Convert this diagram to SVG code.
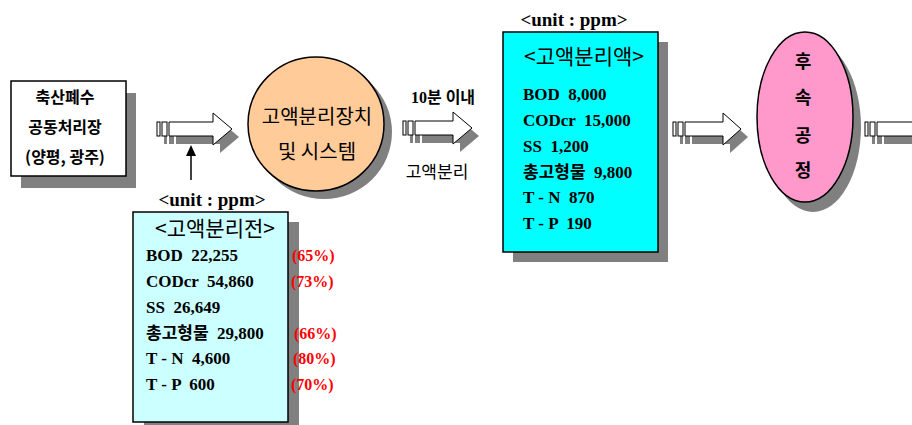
<svg xmlns="http://www.w3.org/2000/svg" width="912" height="425" viewBox="0 0 912 425">
<style>
.sh{fill:#808080;stroke:none}
.ln{stroke:#000;stroke-width:1.5}
.kb{font-family:"Noto Sans CJK KR","Liberation Sans",sans-serif;font-weight:bold;fill:#000}
.kr{font-family:"Noto Sans CJK KR","Liberation Sans",sans-serif;font-weight:normal;fill:#000}
.tb{font-family:"Liberation Serif","Noto Sans CJK KR",serif;font-weight:bold;fill:#000}
.rd{font-family:"Liberation Serif",serif;font-weight:bold;fill:#FF0000;font-size:16px}
.row{font-size:17px}
.aw{fill:#fff;stroke:#000;stroke-width:1}
</style>
<defs>
<g id="arrowShape">
<rect x="0" y="-7" width="3" height="14"/>
<rect x="5" y="-7" width="5" height="14"/>
<polygon points="12,-7 56,-7 56,-16 75,0 56,16 56,7 12,7"/>
</g>
<g id="arrow">
<use href="#arrowShape" class="sh" transform="translate(7,8)"/>
<use href="#arrowShape" class="aw"/>
</g>
<g id="arrowS">
<rect x="7" y="1" width="3" height="14" class="sh"/>
<rect x="12" y="1" width="5" height="14" class="sh"/>
<polygon class="sh" points="19,1 57,1 57,-8 75,8 57,24 57,15 19,15"/>
<rect x="0" y="-7" width="3" height="14" class="aw"/>
<rect x="5" y="-7" width="5" height="14" class="aw"/>
<polygon class="aw" points="12,-7 50,-7 50,-16 68,0 50,16 50,7 12,7"/>
</g>
</defs>

<g id="connectors">
<use href="#arrow" transform="translate(157,129)"/>
<g transform="translate(403,128)">
<rect x="7" y="1" width="3" height="14" class="sh"/>
<rect x="12" y="1" width="5" height="14" class="sh"/>
<polygon class="sh" points="19,1 57,1 57,-8 76,8 57,24 57,15 19,15"/>
<rect x="0" y="-7" width="3" height="14" class="aw"/>
<rect x="5" y="-7" width="5" height="14" class="aw"/>
<polygon class="aw" points="12,-7 50,-7 50,-16 69,0 50,16 50,7 12,7"/>
</g>
<use href="#arrowS" transform="translate(673,129)"/>
<use href="#arrowS" transform="translate(865,129)"/>
<line x1="191" y1="180" x2="191" y2="155" class="ln"/>
<polygon points="191,145 186,156 196,156" fill="#000"/>
</g>

<g id="source">
<rect x="21" y="93" width="115" height="95" class="sh"/>
<rect x="11" y="81" width="115" height="95" fill="#fff" stroke="#000" stroke-width="1.5"/>
<text class="kb" font-size="16" text-anchor="middle" x="65" y="103">축산폐수</text>
<text class="kb" font-size="16" text-anchor="middle" x="65" y="133">공동처리장</text>
<text class="kb" font-size="16" text-anchor="middle" x="65" y="163">(양평, 광주)</text>
</g>

<g id="separator">
<ellipse cx="324" cy="132" rx="68" ry="67" class="sh"/>
<ellipse cx="316" cy="124" rx="68" ry="67" fill="#FFCC99" stroke="#000" stroke-width="1.5"/>
<text class="kr" font-size="20" text-anchor="middle" x="317" y="124">고액분리장치</text>
<text class="kr" font-size="20" text-anchor="middle" x="317" y="159">및 시스템</text>
</g>

<g id="label-time">
<text class="tb" font-size="16" text-anchor="middle" x="443" y="103">10분 이내</text>
<text class="kr" font-size="17" text-anchor="middle" x="437" y="178">고액분리</text>
</g>

<g id="before">
<text class="tb" font-size="19" text-anchor="middle" x="212" y="206">&lt;unit : ppm&gt;</text>
<rect x="144" y="222" width="155" height="210" class="sh"/>
<rect x="133" y="212" width="155" height="210" fill="#CCFFFF" stroke="#000" stroke-width="1.5"/>
<text class="kr" font-size="21" text-anchor="middle" x="215" y="236">&lt;고액분리전&gt;</text>
<text class="tb row" x="146" y="261" xml:space="preserve">BOD  22,255</text>
<text class="tb row" x="146" y="287" xml:space="preserve">CODcr  54,860</text>
<text class="tb row" x="146" y="313" xml:space="preserve">SS  26,649</text>
<text class="tb row" x="146" y="339" xml:space="preserve">총고형물  29,800</text>
<text class="tb row" x="146" y="364" xml:space="preserve">T - N  4,600</text>
<text class="tb row" x="146" y="390" xml:space="preserve">T - P  600</text>
<text class="rd" x="292" y="261">(65%)</text>
<text class="rd" x="291" y="287">(73%)</text>
<text class="rd" x="294" y="339">(66%)</text>
<text class="rd" x="293" y="364">(80%)</text>
<text class="rd" x="291" y="390">(70%)</text>
</g>

<g id="after">
<text class="tb" font-size="19" text-anchor="middle" x="574" y="26">&lt;unit : ppm&gt;</text>
<rect x="513" y="42" width="155" height="220" class="sh"/>
<rect x="503" y="32" width="155" height="220" fill="#00FFFF" stroke="#000" stroke-width="1.5"/>
<text class="kr" font-size="21" text-anchor="middle" x="584" y="64">&lt;고액분리액&gt;</text>
<text class="tb row" x="523" y="100" xml:space="preserve">BOD  8,000</text>
<text class="tb row" x="523" y="126" xml:space="preserve">CODcr  15,000</text>
<text class="tb row" x="523" y="152" xml:space="preserve">SS  1,200</text>
<text class="tb row" x="523" y="178" xml:space="preserve">총고형물  9,800</text>
<text class="tb row" x="523" y="203" xml:space="preserve">T - N  870</text>
<text class="tb row" x="523" y="229" xml:space="preserve">T - P  190</text>
</g>

<g id="post">
<ellipse cx="813" cy="127" rx="48" ry="85" class="sh"/>
<ellipse cx="805" cy="117" rx="48" ry="85" fill="#FF99CC" stroke="#000" stroke-width="1.5"/>
<text class="kb" font-size="18" text-anchor="middle" x="803" y="68">후</text>
<text class="kb" font-size="18" text-anchor="middle" x="803" y="104">속</text>
<text class="kb" font-size="18" text-anchor="middle" x="803" y="142">공</text>
<text class="kb" font-size="18" text-anchor="middle" x="803" y="177">정</text>
</g>
</svg>
